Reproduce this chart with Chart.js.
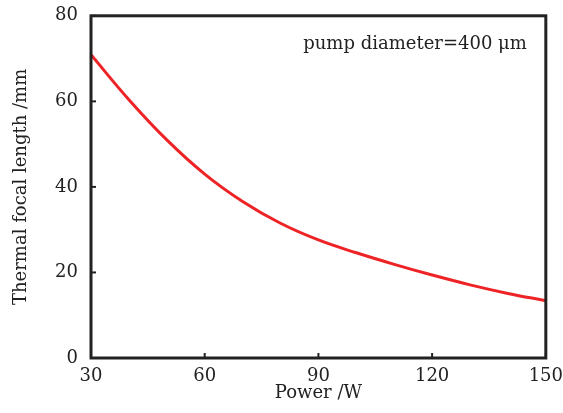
<!DOCTYPE html>
<html>
<head>
<meta charset="utf-8">
<script src="https://cdn.jsdelivr.net/npm/chart.js@4"></script>
<style>
  html, body { margin: 0; padding: 0; background: #fff; }
  #wrap { width: 563px; height: 413px; }
</style>
</head>
<body>
<div id="wrap"><canvas id="myChart"></canvas></div>
<script>
// Values
const powers = [30, 40, 50, 60, 70, 80, 90, 100, 110, 120, 130, 140, 150];
const focalLengths = [70.9, 60.4, 51.0, 43.0, 36.6, 31.5, 27.6, 24.6, 21.9, 19.4, 17.1, 15.1, 13.4];
const xTicks = [30, 60, 90, 120, 150];
const yTicks = [0, 20, 40, 60, 80];
const noteText = 'pump diameter=400 \u03bcm';

const serif = 'DejaVu Serif, Liberation Serif, serif';

// box round the plot, small inward ticks and the note
const framePlugin = {
  id: 'frame',
  afterDraw(chart) {
    const { ctx, chartArea: a, scales } = chart;
    ctx.save();
    ctx.strokeStyle = '#222';
    ctx.lineWidth = 3;
    ctx.strokeRect(a.left, a.top, a.right - a.left, a.bottom - a.top);
    ctx.lineWidth = 2;
    xTicks.forEach(v => {
      const x = scales.x.getPixelForValue(v);
      ctx.beginPath();
      ctx.moveTo(x, a.bottom);
      ctx.lineTo(x, a.bottom - 5);
      ctx.stroke();
    });
    yTicks.forEach(v => {
      const y = scales.y.getPixelForValue(v);
      ctx.beginPath();
      ctx.moveTo(a.left, y);
      ctx.lineTo(a.left + 5, y);
      ctx.stroke();
    });
    ctx.fillStyle = '#222';
    ctx.font = '18px ' + serif;
    ctx.textAlign = 'right';
    ctx.textBaseline = 'middle';
    ctx.fillText(noteText, a.right - 19, a.top + 29);
    ctx.restore();
  }
};

new Chart(document.getElementById('myChart'), {
  type: 'line',
  data: {
    labels: powers,
    datasets: [{
      data: powers.map((p, i) => ({ x: p, y: focalLengths[i] })),
      borderColor: '#ee2326',
      borderWidth: 3,
      pointRadius: 0,
      tension: 0.4,
      fill: false
    }]
  },
  options: {
    responsive: true,
    maintainAspectRatio: false,
    animation: false,
    devicePixelRatio: 1,
    layout: { padding: { top: 12, right: 0, bottom: 0, left: 0 } },
    plugins: { legend: { display: false }, tooltip: { enabled: false } },
    scales: {
      x: {
        type: 'linear',
        min: 30,
        max: 150,
        afterBuildTicks: s => { s.ticks = xTicks.map(v => ({ value: v })); },
        afterFit: s => { s.height = 55; },
        grid: { display: false },
        border: { display: false },
        ticks: { color: '#222', padding: 0, font: { family: serif, size: 18 } },
        title: { display: true, text: 'Power /W', color: '#222', padding: { top: 0, bottom: 9 }, font: { family: serif, size: 18 } }
      },
      y: {
        min: 0,
        max: 80,
        afterBuildTicks: s => { s.ticks = yTicks.map(v => ({ value: v })); },
        afterFit: s => { s.width = 91; },
        grid: { display: false },
        border: { display: false },
        ticks: { color: '#222', padding: 5, font: { family: serif, size: 18 } },
        title: { display: true, text: 'Thermal focal length /mm', color: '#222', padding: { top: 11, bottom: 0 }, font: { family: serif, size: 18 } }
      }
    }
  },
  plugins: [framePlugin]
});
</script>
</body>
</html>
